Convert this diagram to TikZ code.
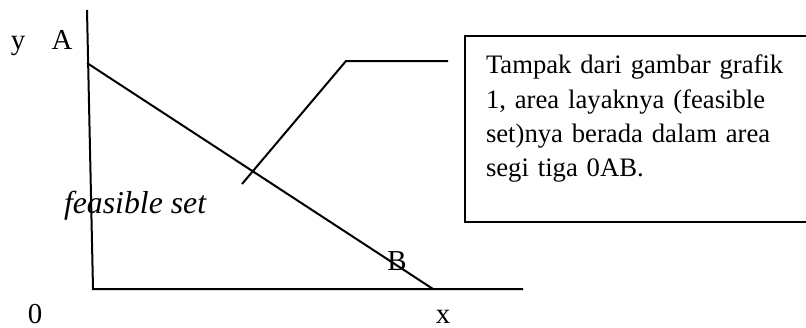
\documentclass[tikz,border=0pt]{standalone}
\usepackage{fontspec}
\setmainfont{Liberation Serif}
\usepackage{tikz}

\tikzset{
  lbl/.style={anchor=base,inner sep=0pt,font=\fontsize{13}{15}\selectfont},
  notetext/.style={anchor=north west,inner sep=0pt,align=left,text width=150pt,
    font=\fontsize{12}{15.4}\selectfont}
}

\begin{document}
\begin{tikzpicture}[x=0.45pt,y=-0.45pt,line width=0.9pt]
  \useasboundingbox (0,0) rectangle (806,327);
  \clip (0,0) rectangle (806,327);
  \coordinate (O) at (93,289);
  \coordinate (ytop) at (87,10);
  \coordinate (xend) at (523,289);
  \coordinate (A) at (87,63);
  \coordinate (B) at (433,289);
  \draw (ytop) -- (O) -- (xend);
  \draw (A) -- (B);
  \node[lbl] (ylab) at (18,49) {y};
  \node[lbl] (Alab) at (62,49) {A};
  \node[lbl] (Blab) at (397,270) {B};
  \node[lbl] (Olab) at (35,323) {0};
  \node[lbl] (xlab) at (443,323) {x};
  \node[anchor=base west,inner sep=0pt,font=\fontsize{14.3}{16}\selectfont\itshape]
    (feas) at (63,213) {feasible set};
  % keterangan
  \coordinate (c1) at (242,184);
  \coordinate (c2) at (346,61);
  \coordinate (c3) at (448,61);
  \draw (c1) -- (c2) -- (c3);
  \draw (830,36) -- (465,36) -- (465,222) -- (830,222);
  \node[notetext] (note) at (485,54) {Tampak dari gambar grafik\\
    1, area layaknya (feasible\\
    set)nya berada dalam area\\
    segi tiga 0AB.};
\end{tikzpicture}
\end{document}
